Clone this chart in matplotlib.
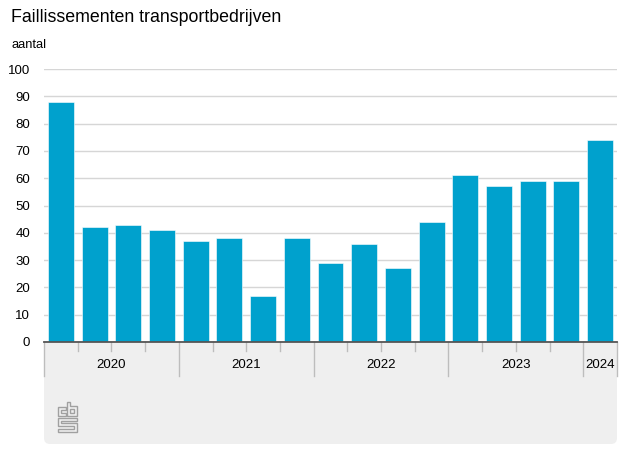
import matplotlib.pyplot as plt
from matplotlib.patches import FancyBboxPatch, Polygon, Rectangle
from matplotlib.transforms import Affine2D

plt.rcParams["font.family"] = ["Liberation Sans", "DejaVu Sans"]

# Data
quarters = ["2020K1", "2020K2", "2020K3", "2020K4",
            "2021K1", "2021K2", "2021K3", "2021K4",
            "2022K1", "2022K2", "2022K3", "2022K4",
            "2023K1", "2023K2", "2023K3", "2023K4",
            "2024K1"]
values = [88, 42, 43, 41, 37, 38, 17, 38, 29, 36, 27, 44, 61, 57, 59, 59, 74]
years = ["2020", "2021", "2022", "2023", "2024"]
year_counts = [4, 4, 4, 4, 1]

BLUE = "#00a1cd"
PANEL = "#efefef"
W, H = 627, 470

fig = plt.figure(figsize=(W / 100, H / 100), dpi=100)
ax = fig.add_axes([44 / W, 1 - 342 / H, (617 - 44) / W, (342 - 69) / H])

# pixel transform with origin top-left
pix = Affine2D().scale(1, -1).translate(0, H)

# grey footer panel (rounded bottom corners)
ax.add_patch(FancyBboxPatch((44, 343), 617 - 44, 444 - 343,
                            boxstyle="round,pad=0,rounding_size=6",
                            transform=pix, facecolor=PANEL, edgecolor="none",
                            zorder=0, clip_on=False))
ax.add_patch(Rectangle((44, 343), 617 - 44, 20, transform=pix, facecolor=PANEL,
                       edgecolor="none", zorder=0, clip_on=False))

x = [i + 0.5 for i in range(len(values))]
ax.bar(x, values, width=0.77, color=BLUE, edgecolor="white", linewidth=0.4, zorder=3)

ax.set_xlim(0, len(values))
ax.set_ylim(0, 100)
ax.set_yticks(range(0, 101, 10))
ax.tick_params(axis="y", length=0, pad=10, labelsize=9.5, colors="#000000")
ax.grid(axis="y", color="#d6d6d6", linewidth=1)
ax.set_axisbelow(True)
ax.set_xticks([])
for s in ["top", "right", "left"]:
    ax.spines[s].set_visible(False)
ax.spines["bottom"].set_color("#555555")
ax.spines["bottom"].set_linewidth(1.3)
ax.spines["bottom"].set_zorder(5)

# quarter ticks and year separators
trans = ax.get_xaxis_transform()
px = 1 / (342 - 69)
boundaries = [0]
for n in year_counts:
    boundaries.append(boundaries[-1] + n)
for b in range(len(values) + 1):
    depth = 34 if b in boundaries else 9
    ax.plot([b, b], [0, -depth * px], color="#bdbdbd", lw=1, transform=trans,
            clip_on=False, zorder=2)
for i, yr in enumerate(years):
    centre = (boundaries[i] + boundaries[i + 1]) / 2
    ax.text(centre, -23.5 * px, yr, transform=trans, ha="center", va="center",
            fontsize=9.5, color="#000000")

# simple cbs logo
logo_shapes = [
    [(66, 407), (58, 407), (58, 416), (66, 416), (66, 413), (61, 413), (61, 410), (66, 410)],
    [(67, 402), (70, 402), (70, 406), (77, 406), (77, 416), (67, 416)],
    [(70, 409), (74, 409), (74, 413), (70, 413)],
    [(77, 418), (58, 418), (58, 426), (74, 426), (74, 429), (58, 429), (58, 432),
     (77, 432), (77, 423), (61, 423), (61, 421), (77, 421)],
]
for shape in logo_shapes:
    ax.add_patch(Polygon(shape, closed=True, transform=pix, facecolor="none",
                         edgecolor="#a0a0a0", lw=1.0, clip_on=False, zorder=1))

fig.text(11 / W, 1 - 18 / H, "Faillissementen transportbedrijven", fontsize=12.8,
         ha="left", va="center", color="#000000")
fig.text(11 / W, 1 - 45 / H, "aantal", fontsize=9.3, ha="left", va="center")

fig.savefig("out.png", dpi=100)
